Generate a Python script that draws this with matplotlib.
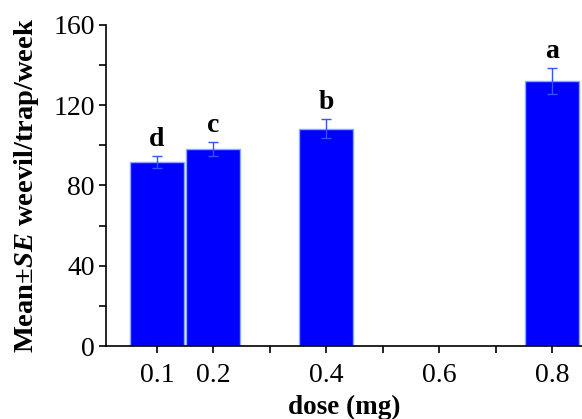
import matplotlib
matplotlib.use("Agg")
import matplotlib.pyplot as plt
from matplotlib.ticker import MultipleLocator, FixedLocator

plt.rcParams['font.family'] = ['Liberation Serif', 'DejaVu Serif']
plt.rcParams['mathtext.fontset'] = 'custom'
plt.rcParams['mathtext.rm'] = 'Liberation Serif:bold'
plt.rcParams['mathtext.it'] = 'Liberation Serif:italic:bold'
plt.rcParams['mathtext.bf'] = 'Liberation Serif:bold'

doses = [0.1, 0.2, 0.4, 0.8]
means = [91.5, 98.2, 108.2, 132.0]
errors = [3.0, 3.5, 4.7, 6.6]
letters = ['d', 'c', 'b', 'a']
xtick_vals = [0.1, 0.2, 0.4, 0.6, 0.8]
xtick_labels = ['0.1', '0.2', '0.4', '0.6', '0.8']

fig = plt.figure(figsize=(5.82, 4.19), dpi=100)
ax = fig.add_axes([106/582, 1 - 346/419, 1 - 106/582 + 0.002, (346 - 25)/419])

ax.bar(doses, means, width=0.095, color='#0000ff', edgecolor='#8aa8ff', linewidth=1.0,
       yerr=errors, error_kw=dict(ecolor='#3355ff', elinewidth=1.0, capsize=3.5, capthick=1.0), zorder=2)

for x, m, e, l in zip(doses, means, errors, letters):
    ax.text(x, m + e + 2.0, l, ha='center', va='bottom', fontsize=20, fontweight='bold')

ax.set_xlim(0.01, 0.855)
ax.set_ylim(0, 160)
ax.yaxis.set_major_locator(MultipleLocator(40))
ax.yaxis.set_minor_locator(MultipleLocator(20))
ax.xaxis.set_major_locator(FixedLocator(xtick_vals))
ax.set_xticklabels(xtick_labels)
ax.xaxis.set_minor_locator(FixedLocator([0.3, 0.5, 0.7]))

for s in ['top', 'right']:
    ax.spines[s].set_visible(False)
for s in ['left', 'bottom']:
    ax.spines[s].set_linewidth(1.2)

ax.tick_params(axis='both', which='major', direction='out', length=5, width=1.2, labelsize=20, pad=3)
ax.tick_params(axis='both', which='minor', direction='out', length=5, width=1.2)
ax.tick_params(axis='x', which='major', pad=7)

ax.set_xlabel('dose (mg)', fontsize=19.5, fontweight='bold', labelpad=5)
ax.set_ylabel(r'Mean$\pm$$\it{SE}$ weevil/trap/week', fontsize=20.5, fontweight='bold', labelpad=9)

fig.savefig('out.png', dpi=100)
